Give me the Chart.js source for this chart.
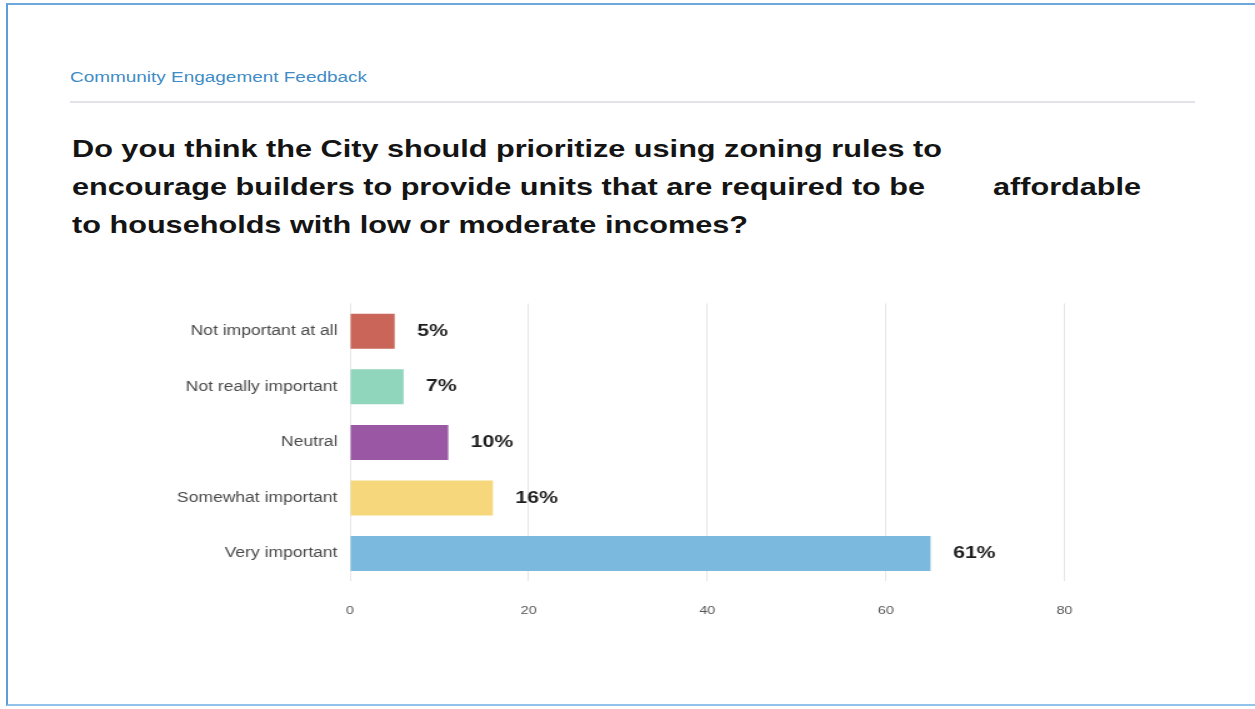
<!DOCTYPE html>
<html>
<head>
<meta charset="utf-8">
<title>Community Engagement Feedback</title>
<script src="https://cdn.jsdelivr.net/npm/chart.js@4.4.1/dist/chart.umd.min.js"></script>
<style>
    html, body {
        margin: 0;
        padding: 0;
        width: 1255px;
        height: 709px;
        overflow: hidden;
        background: #fff;
        font-family: "Liberation Sans", Arial, sans-serif;
    }
    .frame {
        position: absolute;
        left: 6px;
        top: 3px;
        width: 1249px;
        height: 703px;
        border-left: 2px solid #5d9cd6;
        border-top: 2px solid #6ea8dc;
        border-bottom: 2px solid #93c3ea;
        box-sizing: border-box;
    }
    .kicker {
        position: absolute;
        left: 70px;
        top: 68px;
        font-size: 14px;
        line-height: 18px;
        color: #3f8cc6;
        white-space: nowrap;
        transform-origin: 0 0;
    }
    .rule {
        position: absolute;
        left: 70px;
        top: 101px;
        width: 1125px;
        height: 2px;
        background: #e1e3e8;
    }
    .question {
        position: absolute;
        font-size: 24px;
        line-height: 38px;
        font-weight: bold;
        color: #141414;
        white-space: nowrap;
        transform-origin: 0 0;
    }
    #chartWrap {
        position: absolute;
        left: 160px;
        top: 295px;
        width: 740px;
        height: 335px;
        transform: scaleX(1.25);
        transform-origin: 0 0;
    }
</style>
</head>
<body>
<div class="frame"></div>
<div class="kicker" id="kicker">Community Engagement Feedback</div>
<div class="rule"></div>
<div class="question" id="q1" style="left:72px; top:130px;">Do you think the City should prioritize using zoning rules to</div>
<div class="question" id="q2" style="left:72px; top:168px;">encourage builders to provide units that are required to be</div>
<div class="question" id="q2b" style="left:993px; top:168px;">affordable</div>
<div class="question" id="q3" style="left:72px; top:206px;">to households with low or moderate incomes?</div>
<div id="chartWrap"><canvas id="surveyChart"></canvas></div>

<script>
// Survey answers, top to bottom
const categories = ['Not important at all', 'Not really important', 'Neutral', 'Somewhat important', 'Very important'];
// bar lengths as drawn in the picture
const responseValues = [5, 6, 11, 16, 65];
// labels printed next to the bars
const valueLabels = ['5%', '7%', '10%', '16%', '61%'];
const barColors = ['#ca6659', '#90d6bd', '#9a58a4', '#f6d77b', '#7cb9de'];
const axisMax = 80;
const axisStep = 20;

// where the plot area should sit on the page
const STRETCH = 1.25;
const WRAP_LEFT = 160;
const AREA = { left: 350, right: 1064.5, top: 303, bottom: 581 };
const X_AXIS_HEIGHT = 49;

// stretch the html text the same way the picture is stretched
function fitWidth(el, target) {
    const w = el.getBoundingClientRect().width;
    const s = target / w;
    el.style.transform = `scaleX(${s})`;
    return s;
}

function layoutText() {
    fitWidth(document.getElementById('kicker'), 297);
    const s = fitWidth(document.getElementById('q1'), 870);
    ['q2', 'q2b', 'q3'].forEach(id => {
        document.getElementById(id).style.transform = `scaleX(${s})`;
    });
}

// writes the percent next to each bar
const valueLabelPlugin = {
    id: 'valueLabels',
    afterDatasetsDraw(chart) {
        const ctx = chart.ctx;
        const meta = chart.getDatasetMeta(0);
        ctx.save();
        ctx.font = 'bold 17px "Liberation Sans", Arial, sans-serif';
        ctx.fillStyle = '#1e1e1e';
        ctx.textAlign = 'left';
        ctx.textBaseline = 'middle';
        meta.data.forEach((bar, i) => {
            ctx.fillText(valueLabels[i], bar.x + 18, bar.y);
        });
        ctx.restore();
    }
};

function drawChart() {
    const ctx = document.getElementById('surveyChart').getContext('2d');

    const chart = new Chart(ctx, {
        type: 'bar',
        data: {
            labels: categories,
            datasets: [{
                data: responseValues,
                backgroundColor: barColors,
                borderWidth: 0,
                barPercentage: 0.9,
                categoryPercentage: 0.7
            }]
        },
        options: {
            indexAxis: 'y',
            responsive: true,
            maintainAspectRatio: false,
            animation: false,
            layout: {
                padding: 0
            },
            plugins: {
                legend: { display: false },
                tooltip: { enabled: false }
            },
            scales: {
                x: {
                    min: 0,
                    max: axisMax,
                    ticks: {
                        stepSize: axisStep,
                        padding: 23,
                        color: '#555',
                        font: { family: '"Liberation Sans", Arial, sans-serif', size: 11.5 }
                    },
                    grid: { color: '#e6e6e6', drawTicks: false },
                    border: { display: false },
                    afterFit: scale => { scale.height = X_AXIS_HEIGHT; }
                },
                y: {
                    ticks: {
                        padding: 10,
                        color: '#4a4a4a',
                        font: { family: '"Liberation Sans", Arial, sans-serif', size: 14 }
                    },
                    grid: { display: false, drawTicks: false },
                    border: { display: false },
                    afterFit: scale => { scale.width = (AREA.left - WRAP_LEFT) / STRETCH; }
                }
            }
        },
        plugins: [valueLabelPlugin]
    });

    // move/resize the wrapper so the plot area lands where it is in the picture
    const wrap = document.getElementById('chartWrap');
    const padTop = chart.chartArea.top;
    const padRight = chart.width - chart.chartArea.right;
    const wrapTop = AREA.top - padTop;
    wrap.style.top = wrapTop + 'px';
    wrap.style.height = (AREA.bottom - wrapTop + X_AXIS_HEIGHT) + 'px';
    wrap.style.width = ((AREA.right - WRAP_LEFT) / STRETCH + padRight) + 'px';
    chart.resize();
}

layoutText();
drawChart();
</script>
</body>
</html>
